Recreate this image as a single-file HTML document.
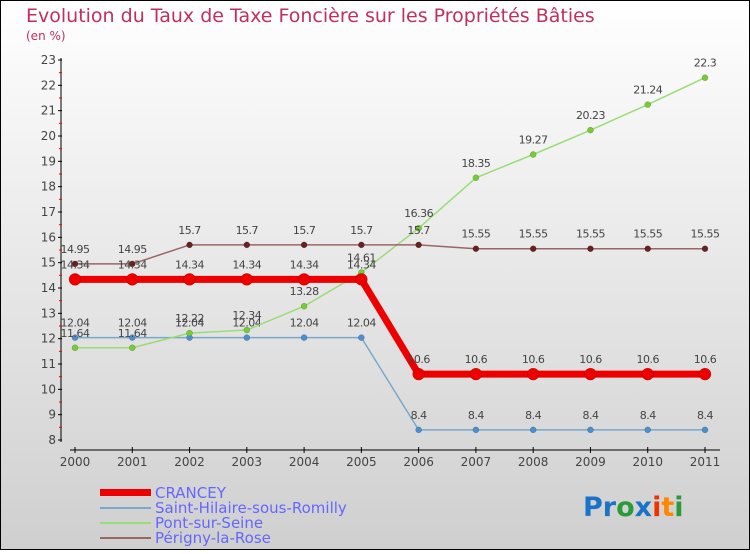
<!DOCTYPE html>
<html><head><meta charset="utf-8"><style>
body{margin:0}
#c{width:750px;height:550px;position:relative;font-family:"DejaVu Sans","Liberation Sans",sans-serif}
</style></head><body>
<div id="c">
<svg id="s" width="750" height="550" xmlns="http://www.w3.org/2000/svg">
<defs><linearGradient id="bg" x1="0" y1="0" x2="0" y2="1"><stop offset="0" stop-color="#ffffff"/><stop offset="1" stop-color="#cfcfcf"/></linearGradient></defs>
<rect x="0.5" y="0.5" width="749" height="549" fill="url(#bg)" stroke="#000"/>
<text x="26" y="22" font-size="19" fill="#c0305a">Evolution du Taux de Taxe Foncière sur les Propriétés Bâties</text>
<text x="26" y="40" font-size="12" fill="#c0305a">(en %)</text>
<g id="axes"></g><g id="series"></g>
<g>
<rect x="100" y="489" width="51" height="7" fill="#ee0000"/>
<text x="155" y="498" font-size="15" fill="#6666ff">CRANCEY</text>
<rect x="100" y="507" width="51" height="2" fill="#7aa8cc"/>
<text x="155" y="513" font-size="15" fill="#6666ff">Saint-Hilaire-sous-Romilly</text>
<rect x="100" y="522" width="51" height="2" fill="#99dd77"/>
<text x="155" y="528" font-size="15" fill="#6666ff">Pont-sur-Seine</text>
<rect x="100" y="537" width="51" height="2" fill="#996666"/>
<text x="155" y="543" font-size="15" fill="#6666ff">Périgny-la-Rose</text>
</g>
<text x="583" y="516" font-size="27" font-weight="bold"><tspan fill="#1a73c8">Pr</tspan><tspan fill="#2a9a3a">o</tspan><tspan fill="#1a73c8">x</tspan><tspan fill="#ee3300">i</tspan><tspan fill="#ff8800">t</tspan><tspan fill="#2a9a3a">i</tspan></text>
</svg></div>
<script>
const years=[2000,2001,2002,2003,2004,2005,2006,2007,2008,2009,2010,2011];
const yTicks=[8,9,10,11,12,13,14,15,16,17,18,19,20,21,22,23];
const crancey=[14.34,14.34,14.34,14.34,14.34,14.34,10.6,10.6,10.6,10.6,10.6,10.6];
const saintHilaire=[12.04,12.04,12.04,12.04,12.04,12.04,8.4,8.4,8.4,8.4,8.4,8.4];
const pont=[11.64,11.64,12.22,12.34,13.28,14.61,16.36,18.35,19.27,20.23,21.24,22.3];
const perigny=[14.95,14.95,15.7,15.7,15.7,15.7,15.7,15.55,15.55,15.55,15.55,15.55];
const NS="http://www.w3.org/2000/svg";
const xs=i=>75+i*(630/11);
const ys=v=>60+(23-v)*(380/15);
function mk(t,a,p){const e=document.createElementNS(NS,t);for(const k in a)e.setAttribute(k,a[k]);p.appendChild(e);return e;}
const ax=document.getElementById('axes');
let e=mk('line',{x1:61,y1:58,x2:61,y2:442,stroke:'#000','stroke-width':1},ax);

e=mk('line',{x1:70,y1:450,x2:720,y2:450,stroke:'#000','stroke-width':1},ax);

yTicks.forEach(v=>{
 mk('line',{x1:58,x2:62,y1:ys(v),y2:ys(v),stroke:'#000'},ax);
 if(v<23)mk('line',{x1:59,x2:62,y1:ys(v+0.5),y2:ys(v+0.5),stroke:'#e00'},ax);
 const t=mk('text',{x:56,y:ys(v)+4,'font-size':12,'text-anchor':'end',fill:'#444'},ax);t.textContent=v;
 
});
years.forEach((y,i)=>{
 mk('line',{x1:xs(i),x2:xs(i),y1:447,y2:453,stroke:'#000'},ax);
 const t=mk('text',{x:xs(i),y:466,'font-size':12,'text-anchor':'middle',fill:'#444'},ax);t.textContent=y;
 
});
const sg=document.getElementById('series');
function series(d,name,col,w,r,dot,lblcol){
 const g=mk('g',{},sg);
 const p=mk('polyline',{points:d.map((v,i)=>xs(i)+','+ys(v)).join(' '),fill:'none',stroke:col,'stroke-width':w,'stroke-linejoin':'round'},g);
 
 d.forEach((v,i)=>{
  const c=mk('circle',{cx:xs(i),cy:ys(v),r:r,fill:dot,stroke:'rgba(0,0,0,0.3)','stroke-width':0.5},g);
  
  const t=mk('text',{x:xs(i),y:ys(v)-11,'font-size':11,'text-anchor':'middle',fill:'#444','letter-spacing':'-0.5'},g);t.textContent=v;
  
 });
}
series(saintHilaire,'saint-hilaire','#7aa8cc',1.5,3,'#4a90d0');
series(pont,'pont','#99dd77',1.5,3,'#77cc33');
series(perigny,'perigny','#996666',1.5,3,'#662222');
series(crancey,'crancey','#ee0000',7,6,'#ee0000');
</script>
</body></html>
